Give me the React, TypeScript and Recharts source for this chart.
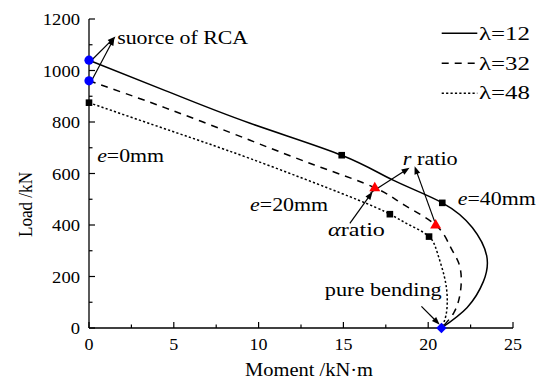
import React from 'react';
import {
  ComposedChart,
  Line,
  Scatter,
  XAxis,
  YAxis,
  ReferenceLine,
  ReferenceDot,
  Legend,
} from 'recharts';

const FONT = "'Liberation Serif', 'Times New Roman', serif";

// ---- curve data (Moment kN·m, Load kN) ----
const M12 = [0, 4.5, 9.5, 14.9, 17.93, 20.83, 22.6, 23.45, 23.25, 22.3, 20.78];
const N12 = [1040, 922, 795, 671, 574, 486, 390, 280, 180, 80, 0];

const M32 = [0, 4.5, 9.5, 13.5, 16.85, 18.6, 20.44, 21.3, 21.8, 21.95, 21.85, 21.5, 20.78];
const N32 = [960, 855, 729, 628, 545, 477, 400, 316, 252, 187, 122, 58, 0];

const M48 = [0, 4.5, 9.5, 15.38, 17.74, 18.9, 20.05, 20.55, 20.95, 21.12, 21.05, 20.78];
const N48 = [875, 773, 658, 510, 442, 400, 355, 290, 200, 120, 50, 0];

// ---- marker data ----
const CIRCLE_M = [0, 0];
const CIRCLE_N = [1040, 960];
const SQUARE_M = [0, 14.9, 20.83, 17.74, 20.05];
const SQUARE_N = [875, 671, 486, 442, 355];
const TRI_M = [16.85, 20.44];
const TRI_N = [545, 400];
const DIAMOND_M = [20.78];
const DIAMOND_N = [0];

// ---- axis ticks ----
const X_TICKS = [0, 2.5, 5, 7.5, 10, 12.5, 15, 17.5, 20, 22.5, 25];
const Y_TICKS = [0, 100, 200, 300, 400, 500, 600, 700, 800, 900, 1000, 1100, 1200];

// ---- series names ----
const NAMES = ['λ=12', 'λ=32', 'λ=48'];
const DASHES = [undefined, '7 6', '2.2 2.2'];

// ---- annotations: [text parts], x, y(baseline), text length ----
const NOTE_TEXT = [
  [['suorce of RCA', false]],
  [['e', true], ['=0mm', false]],
  [['e', true], ['=20mm', false]],
  [['e', true], ['=40mm', false]],
  [['r', true], [' ratio', false]],
  [['α', true], ['ratio', false]],
  [['pure bending', false]],
];
const NOTE_X = [1.66, 0.48, 9.5, 21.74, 18.5, 14.09, 13.9];
const NOTE_Y = [1103, 645, 454, 477, 632, 357, 123];
const NOTE_LEN = [131, 67, 78, 78, 55, 57, 117];

// ---- arrows: from (x1,y1) to (x2,y2) ----
const ARROW_FROM_X = [0.15, 0.15, 16.6, 20.38, 15.38, 19.6];
const ARROW_FROM_Y = [1040, 960, 525, 413, 406, 84];
const ARROW_TO_X = [1.56, 1.5, 18.9, 19.2, 16.72, 20.68];
const ARROW_TO_Y = [1132, 1128, 622, 628, 529, 13];

const zip = (xs: number[], ys: number[]) => xs.map((x, i) => ({ x, y: ys[i] }));

const SERIES = [
  { name: NAMES[0], dash: DASHES[0], data: zip(M12, N12) },
  { name: NAMES[1], dash: DASHES[1], data: zip(M32, N32) },
  { name: NAMES[2], dash: DASHES[2], data: zip(M48, N48) },
];

const renderXTick = (props: any) => {
  const { x, y, payload } = props;
  const v = payload.value;
  const major = Math.abs(v % 5) < 1e-9;
  const s = String(v);
  return (
    <g>
      <line x1={x} x2={x} y1={y} y2={y - (major ? 6 : 3.5)} stroke="#000" strokeWidth={1.2} />
      {major && (
        <text
          x={x}
          y={y + 22}
          textAnchor="middle"
          fontSize={17}
          fontFamily={FONT}
          fill="#000"
          textLength={s.length * 9}
          lengthAdjust="spacingAndGlyphs"
        >
          {s}
        </text>
      )}
    </g>
  );
};

const renderYTick = (props: any) => {
  const { x, y, payload } = props;
  const v = payload.value;
  const major = v % 200 === 0;
  const s = String(v);
  return (
    <g>
      <line x1={x} x2={x + (major ? 6 : 3.5)} y1={y} y2={y} stroke="#000" strokeWidth={1.2} />
      {major && (
        <text
          x={x - 9}
          y={y + 6}
          textAnchor="end"
          fontSize={17}
          fontFamily={FONT}
          fill="#000"
          textLength={s.length * 9.3}
          lengthAdjust="spacingAndGlyphs"
        >
          {s}
        </text>
      )}
    </g>
  );
};

const Arrow = (p: any) => {
  const { x1, y1, x2, y2 } = p;
  if ([x1, y1, x2, y2].some((v) => typeof v !== 'number' || isNaN(v))) return <g />;
  const dx = x2 - x1;
  const dy = y2 - y1;
  const L = Math.hypot(dx, dy) || 1;
  const ux = dx / L;
  const uy = dy / L;
  const hl = 8;
  const hw = 3;
  const bx = x2 - ux * hl;
  const by = y2 - uy * hl;
  return (
    <g>
      <line x1={x1} y1={y1} x2={bx + ux} y2={by + uy} stroke="#000" strokeWidth={1.2} />
      <polygon
        points={`${x2},${y2} ${bx - uy * hw},${by + ux * hw} ${bx + uy * hw},${by - ux * hw}`}
        fill="#000"
      />
    </g>
  );
};

const CircleShape = (p: any) => <circle cx={p.cx} cy={p.cy} r={4.6} fill="#0000ff" />;
const SquareShape = (p: any) => (
  <rect x={p.cx - 3.3} y={p.cy - 3.3} width={6.6} height={6.6} fill="#000" />
);
const TriShape = (p: any) => (
  <polygon
    points={`${p.cx},${p.cy - 6} ${p.cx - 5.5},${p.cy + 3.5} ${p.cx + 5.5},${p.cy + 3.5}`}
    fill="#ff0000"
  />
);
const DiamondShape = (p: any) => (
  <polygon
    points={`${p.cx},${p.cy - 5.3} ${p.cx + 5.2},${p.cy} ${p.cx},${p.cy + 5.3} ${p.cx - 5.2},${p.cy}`}
    fill="#0000ff"
  />
);

const LegendContent = (props: any) => {
  const payload = (props.payload || []).filter((e: any) => NAMES.indexOf(e.value) >= 0);
  return (
    <svg width={105} height={95} style={{ display: 'block', overflow: 'visible' }}>
      {payload.map((e: any, i: number) => {
        const idx = NAMES.indexOf(e.value);
        const dash = DASHES[idx];
        const ly = 15.3 + 30 * i;
        return (
          <g key={i}>
            <line x1={3.7} x2={39.3} y1={ly} y2={ly} stroke="#000" strokeWidth={1.5} strokeDasharray={dash} />
            <text
              x={41}
              y={22 + 29.5 * i}
              fontSize={19}
              fontFamily={FONT}
              fill="#000"
              textLength={51}
              lengthAdjust="spacingAndGlyphs"
            >
              {e.value}
            </text>
          </g>
        );
      })}
    </svg>
  );
};

const YLabel = (props: any) => {
  const vb = props.viewBox || { x: 0, y: 19, width: 89, height: 309 };
  const cx = vb.x + 32;
  const cy = vb.y + vb.height / 2 + 31;
  return (
    <text
      x={cx}
      y={cy}
      transform={`rotate(-90, ${cx}, ${cy})`}
      textAnchor="middle"
      fontSize={19}
      fontFamily={FONT}
      fill="#000"
      textLength={65}
      lengthAdjust="spacingAndGlyphs"
    >
      Load /kN
    </text>
  );
};

const XLabel = (props: any) => {
  const vb = props.viewBox || { x: 89, y: 328, width: 424, height: 52 };
  const cx = vb.x + vb.width / 2 + 8;
  return (
    <text
      x={cx}
      y={vb.y + 48}
      textAnchor="middle"
      fontSize={19}
      fontFamily={FONT}
      fill="#000"
      textLength={128}
      lengthAdjust="spacingAndGlyphs"
    >
      Moment /kN·m
    </text>
  );
};

const makeNote = (i: number) => (p: any) => {
  if (typeof p.cx !== 'number') return <g />;
  return (
    <text
      x={p.cx}
      y={p.cy}
      fontSize={19}
      fontFamily={FONT}
      fill="#000"
      textLength={NOTE_LEN[i]}
      lengthAdjust="spacingAndGlyphs"
    >
      {(NOTE_TEXT[i] as any[]).map((part: any, k: number) => (
        <tspan key={k} fontStyle={part[1] ? 'italic' : 'normal'}>
          {part[0]}
        </tspan>
      ))}
    </text>
  );
};

export default function App() {
  return (
    <div style={{ position: 'absolute', left: 0, top: 0, width: 543, height: 380, background: '#fff' }}>
      <ComposedChart width={543} height={380} margin={{ top: 19, right: 30, bottom: 0, left: 0 }}>
        <XAxis
          type="number"
          dataKey="x"
          domain={[0, 25]}
          ticks={X_TICKS}
          interval={0}
          tickSize={0}
          tickMargin={0}
          tickLine={false}
          tick={renderXTick}
          axisLine={{ stroke: '#000', strokeWidth: 1.3 }}
          height={52}
          label={XLabel}
        />
        <YAxis
          type="number"
          dataKey="y"
          domain={[0, 1200]}
          ticks={Y_TICKS}
          interval={0}
          tickSize={0}
          tickMargin={0}
          tickLine={false}
          tick={renderYTick}
          axisLine={{ stroke: '#000', strokeWidth: 1.3 }}
          width={89}
          label={YLabel}
        />
        {SERIES.map((s) => (
          <Line
            key={s.name}
            name={s.name}
            data={s.data}
            dataKey="y"
            type="natural"
            stroke="#000"
            strokeWidth={1.5}
            strokeDasharray={s.dash}
            dot={false}
            activeDot={false}
            isAnimationActive={false}
          />
        ))}
        {ARROW_FROM_X.map((_, i) => (
          <ReferenceLine
            key={'a' + i}
            segment={[
              { x: ARROW_FROM_X[i], y: ARROW_FROM_Y[i] },
              { x: ARROW_TO_X[i], y: ARROW_TO_Y[i] },
            ]}
            shape={Arrow}
            ifOverflow="visible"
          />
        ))}
        <Scatter data={zip(SQUARE_M, SQUARE_N)} dataKey="y" shape={SquareShape} legendType="none" isAnimationActive={false} />
        <Scatter data={zip(TRI_M, TRI_N)} dataKey="y" shape={TriShape} legendType="none" isAnimationActive={false} />
        <Scatter data={zip(CIRCLE_M, CIRCLE_N)} dataKey="y" shape={CircleShape} legendType="none" isAnimationActive={false} />
        <Scatter data={zip(DIAMOND_M, DIAMOND_N)} dataKey="y" shape={DiamondShape} legendType="none" isAnimationActive={false} />
        {NOTE_X.map((_, i) => (
          <ReferenceDot key={'n' + i} x={NOTE_X[i]} y={NOTE_Y[i]} r={0} shape={makeNote(i)} ifOverflow="visible" />
        ))}
        <Legend
          layout="vertical"
          align="center"
          verticalAlign="middle"
          wrapperStyle={{ position: 'absolute', left: 438, top: 18, width: 105, height: 95, right: 'auto', bottom: 'auto' }}
          content={LegendContent}
        />
      </ComposedChart>
    </div>
  );
}
